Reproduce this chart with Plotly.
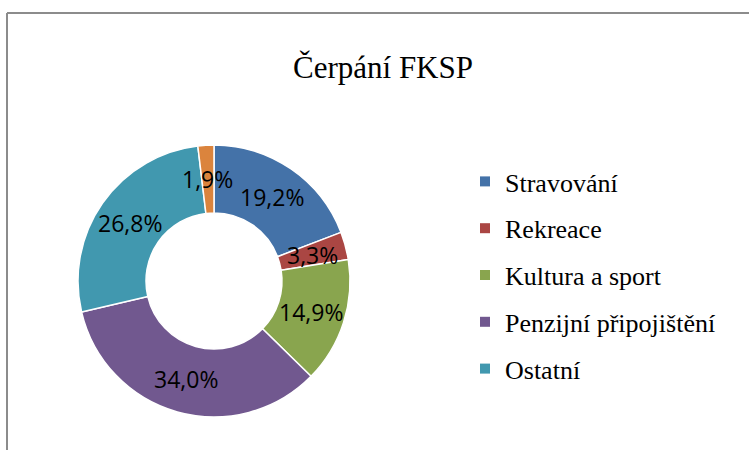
import math
import plotly.graph_objects as go

categories = ["Stravování", "Rekreace", "Kultura a sport", "Penzijní připojištění", "Ostatní", ""]
shares = [19.2, 3.3, 14.9, 34.0, 26.8, 1.9]
colors = ["#4472A8", "#AA4643", "#89A54E", "#71588F", "#4198AF", "#DB843D"]
legend_count = 5

W, H = 749, 450
# donut geometry (pixels)
CX, CY, R = 214, 281, 136
HOLE = 0.5

fig = go.Figure()
fig.add_trace(go.Pie(
    labels=categories, values=shares, sort=False, direction="clockwise", rotation=0,
    hole=HOLE, showlegend=False, textinfo="none",
    marker=dict(colors=colors, line=dict(color="white", width=1.5)),
    domain=dict(x=[(CX - R) / W, (CX + R) / W], y=[1 - (CY + R) / H, 1 - (CY - R) / H]),
    hoverinfo="label+percent",
))

# data labels at the middle of each ring segment
total = sum(shares)
annotations = []
cum = 0.0
rmid = R * (1 + HOLE) / 2
for v in shares:
    mid = (cum + v / 2) / total * 2 * math.pi
    cum += v
    px = CX + rmid * math.sin(mid)
    py = CY - rmid * math.cos(mid)
    annotations.append(dict(
        x=px / W, y=1 - py / H, xref="paper", yref="paper", showarrow=False,
        text=f"{v:.1f}%".replace(".", ","),
        font=dict(family="Open Sans", size=23, color="black"),
        xanchor="center", yanchor="middle",
    ))

for i in range(legend_count):
    fig.add_trace(go.Scatter(
        x=[None], y=[None], mode="markers", name=categories[i], legendgroup=f"g{i}",
        marker=dict(symbol="square", size=10, color=colors[i]),
    ))

fig.update_layout(
    width=W, height=H, margin=dict(l=0, r=0, t=0, b=0),
    paper_bgcolor="white", plot_bgcolor="white",
    xaxis=dict(visible=False), yaxis=dict(visible=False),
    title=dict(text="Čerpání FKSP", x=383 / W, xanchor="center", y=1 - 67 / H, yanchor="middle",
               font=dict(family="Liberation Serif", size=31, color="black")),
    legend=dict(x=465 / W, y=1 - 158 / H, xanchor="left", yanchor="top",
                font=dict(family="Liberation Serif", size=26, color="black"),
                tracegroupgap=10, itemwidth=30, bgcolor="rgba(0,0,0,0)"),
    annotations=annotations,
    shapes=[
        dict(type="line", xref="paper", yref="paper", x0=7 / W, x1=1.01, y0=1 - 13 / H, y1=1 - 13 / H,
             line=dict(color="#8c8c8c", width=2)),
        dict(type="line", xref="paper", yref="paper", x0=7 / W, x1=7 / W, y0=-0.01, y1=1 - 13 / H,
             line=dict(color="#8c8c8c", width=2)),
    ],
)
fig.write_html("out.html", post_script="document.body.style.margin='0';",
               config={"displayModeBar": False})
